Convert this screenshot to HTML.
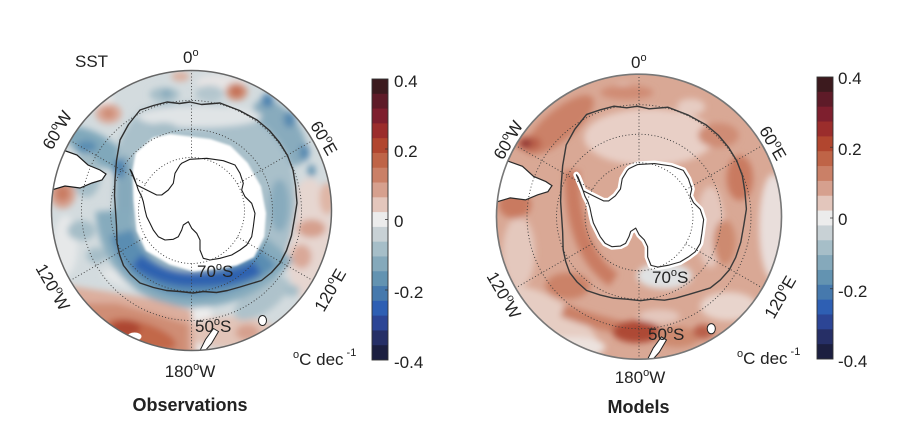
<!DOCTYPE html>
<html><head><meta charset="utf-8"><style>
html,body{margin:0;padding:0;background:#fff;}
svg{display:block;}
text{font-family:"Liberation Sans",Arial,sans-serif;fill:#222;}
</style></head><body>
<svg width="900" height="448" viewBox="0 0 900 448" xmlns="http://www.w3.org/2000/svg">
<defs>
<clipPath id="cl"><circle r="140"/></clipPath>
<filter id="bl" x="-30%" y="-30%" width="160%" height="160%"><feGaussianBlur stdDeviation="3.2"/></filter>
<filter id="bl2" x="-10%" y="-10%" width="120%" height="120%"><feGaussianBlur stdDeviation="1"/></filter>
<path id="ant" d="M-61.5,-41.2 L-59.8,-38.8 L-56.5,-30.5 L-53.2,-20.5 L-49.8,-13.8 L-48.2,-8.8 L-46.5,-0.5 L-44.8,6.2 L-41.5,12.8 L-38.2,19.5 L-33.2,26.2 L-26.5,29.5 L-18.2,28.8 L-13.2,26.2 L-9.8,19.5 L-8.2,14.5 L-3.2,11.2 L0.2,17.8 L5.2,22.8 L8.5,29.5 L8.5,39.5 L11.8,47.8 L18.5,49.5 L28.5,47.8 L40.2,44.5 L48.5,39.5 L55.2,34.5 L60.2,26.2 L61.8,16.2 L63.5,2.8 L60.2,-7.2 L53.5,-13.8 L50.2,-20.5 L51.8,-27.2 L48.5,-37.2 L43.5,-45.5 L31.8,-49.8 L15.2,-52.2 L-1.5,-51.2 L-9.8,-47.2 L-11.5,-45.5 L-16.5,-37.2 L-18.2,-27.2 L-23.2,-20.5 L-29.8,-15.5 L-34.8,-15.5 L-44.8,-20.5 L-54.8,-25.5 Z"/>
<path id="acc" d="M-1.5,-108.5 L10,-106 L28.5,-107.5 L48,-100 L65.5,-90.5 L78,-80 L88,-68 L96,-55 L101.5,-40.5 L104,-25 L105.5,-7.5 L103,8 L100,25 L95,40 L88.5,52.5 L80,62 L70,70 L60,73 L48.5,76.5 L36,80 L25,82 L12,81 L1.5,82.5 L-12,81 L-25,80 L-38,77 L-51.5,72.5 L-61,64 L-68,55 L-72,44 L-74.5,32.5 L-75,15 L-76,0 L-77,-15 L-76.5,-30.5 L-75,-50 L-71.5,-70.5 L-63,-86 L-51.5,-100.5 L-38,-105 L-24.5,-108.5 L-12,-107 Z"/>
<path id="sam" d="M-145,-64 L-128.5,-60.5 L-114.5,-55.5 L-103.5,-45.5 L-91.5,-40.5 L-85.5,-36.5 L-89.5,-30.5 L-99.5,-27.5 L-111.5,-22.5 L-126.5,-24.5 L-145,-19 Z"/>
<g id="grid" fill="none" stroke="#3a3a3a" stroke-width="0.9" stroke-dasharray="1 2.2">
<circle r="53"/><circle r="81"/><circle r="110"/>
<path d="M0,-53 L0,-140 M45.9,-26.5 L121.2,-70 M45.9,26.5 L121.2,70 M0,53 L0,140 M-45.9,26.5 L-121.2,70 M-45.9,-26.5 L-121.2,-70"/>
</g>
<g id="nz">
<path d="M8,141 L14,129 L22,118 L27,121 L20,133 L12,142 Z" fill="#fff" stroke="#222" stroke-width="1"/>
<ellipse cx="71" cy="110" rx="4" ry="5" fill="#fff" stroke="#222" stroke-width="1"/>
</g>
<g id="cbar">
<rect x="0" y="0" width="16" height="15.3" fill="#3c1a1e"/>
<rect x="0" y="14.79" width="16" height="15.3" fill="#5e1b28"/>
<rect x="0" y="29.58" width="16" height="15.3" fill="#7e1f2e"/>
<rect x="0" y="44.37" width="16" height="15.3" fill="#9b2d2c"/>
<rect x="0" y="59.16" width="16" height="15.3" fill="#b1462f"/>
<rect x="0" y="73.95" width="16" height="15.3" fill="#bf6447"/>
<rect x="0" y="88.74" width="16" height="15.3" fill="#ca8067"/>
<rect x="0" y="103.53" width="16" height="15.3" fill="#d6a08e"/>
<rect x="0" y="118.32" width="16" height="15.3" fill="#e3c6bc"/>
<rect x="0" y="133.11" width="16" height="15.3" fill="#ececec"/>
<rect x="0" y="147.89" width="16" height="15.3" fill="#c8d1d5"/>
<rect x="0" y="162.68" width="16" height="15.3" fill="#a6bec8"/>
<rect x="0" y="177.47" width="16" height="15.3" fill="#85a9bb"/>
<rect x="0" y="192.26" width="16" height="15.3" fill="#6393b1"/>
<rect x="0" y="207.05" width="16" height="15.3" fill="#4679ad"/>
<rect x="0" y="221.84" width="16" height="15.3" fill="#2e5fb3"/>
<rect x="0" y="236.63" width="16" height="15.3" fill="#2c4595"/>
<rect x="0" y="251.42" width="16" height="15.3" fill="#262f66"/>
<rect x="0" y="266.21" width="16" height="14.79" fill="#1c1f40"/>
<rect x="0" y="0" width="16" height="281" fill="none" stroke="#333" stroke-width="0.9"/>
<path d="M16,70 h-3 M16,140.5 h-3 M16,211 h-3" stroke="#333" stroke-width="0.8"/>
</g>
</defs>
<rect width="900" height="448" fill="#fff"/>

<!-- ================= LEFT MAP ================= -->
<g transform="translate(191.5,210.5)">
<g clip-path="url(#cl)">
<circle r="140" fill="#d3dbde"/>
<g filter="url(#bl)">
 <ellipse cx="-95" cy="-112" rx="16" ry="9" fill="#e9e9e9"/>
 <ellipse cx="-126" cy="35" rx="12" ry="30" fill="#e6e8e9"/>
 <ellipse cx="30" cy="-128" rx="25" ry="8" fill="#e6e4e4"/>
 <ellipse cx="118" cy="30" rx="24" ry="62" fill="#e6d6d0"/>
 <ellipse cx="10" cy="118" rx="12" ry="28" fill="#ececec"/>
 <ellipse cx="-60" cy="70" rx="30" ry="8" fill="#e4e7e8" transform="rotate(15 -60 70)"/>
 <ellipse cx="120" cy="18" rx="14" ry="9" fill="#d6a08e"/>
 <ellipse cx="110" cy="46" rx="10" ry="12" fill="#d9a898"/>
 <ellipse cx="136" cy="-12" rx="8" ry="16" fill="#dfb6a6"/>
 <ellipse cx="-129" cy="-17" rx="13" ry="15" fill="#d6a08e"/>
 <ellipse cx="-129" cy="-17" rx="7" ry="8" fill="#c97c62"/>
 <ellipse cx="-83" cy="-97" rx="13" ry="10" fill="#daa898"/>
 <ellipse cx="-83" cy="-97" rx="6" ry="5" fill="#cd8a72"/>
 <ellipse cx="45" cy="-119" rx="11" ry="9" fill="#d09078"/>
 <ellipse cx="45" cy="-119" rx="5" ry="5" fill="#c26a50"/>
 <ellipse cx="-11" cy="-134" rx="9" ry="5" fill="#dcb0a0"/>
 <ellipse cx="64" cy="-82" rx="18" ry="8" fill="#e0c2b6"/>
 <ellipse cx="40" cy="122" rx="45" ry="16" fill="#e2c4b8"/>
 <ellipse cx="56" cy="122" rx="12" ry="8" fill="#d6a08e"/>
 <ellipse cx="88" cy="-78" rx="20" ry="38" fill="#88abbd" transform="rotate(-35 88 -78)"/>
 <ellipse cx="76" cy="-110" rx="6" ry="7" fill="#4f84b0"/>
 <ellipse cx="98" cy="-91" rx="6" ry="8" fill="#5689b0"/>
 <ellipse cx="113" cy="-58" rx="5" ry="8" fill="#5689b0"/>
 <ellipse cx="120" cy="-40" rx="4" ry="6" fill="#6393b1"/>
 <ellipse cx="-27" cy="-116" rx="15" ry="7" fill="#a6bec8"/>
 <ellipse cx="-25" cy="-117" rx="5" ry="4" fill="#85a9bb"/>
 <ellipse cx="18" cy="-117" rx="14" ry="8" fill="#b4c6ce"/>
 <ellipse cx="-95" cy="-62" rx="36" ry="14" fill="#80a8bb" transform="rotate(30 -95 -62)"/>
 <ellipse cx="-105" cy="-64" rx="10" ry="6" fill="#5a8db2"/>
 <ellipse cx="-105" cy="-35" rx="14" ry="22" fill="#a6bec8"/>
 <ellipse cx="-110" cy="20" rx="14" ry="10" fill="#a6bec8"/>
 <ellipse cx="-95" cy="45" rx="10" ry="8" fill="#a6bec8"/>
 <ellipse cx="70" cy="88" rx="32" ry="14" fill="#aec2cb" transform="rotate(-35 70 88)"/>
 <ellipse cx="100" cy="80" rx="8" ry="6" fill="#a6bec8"/>
 <use href="#acc" fill="#a9c0ca"/>
 <ellipse cx="8" cy="-94" rx="62" ry="11" fill="#e0e4e6"/>
 <ellipse cx="-28" cy="-82" rx="14" ry="6" fill="#a6bec8"/>
 <ellipse cx="88" cy="-5" rx="10" ry="26" fill="#88abbd"/>
 <ellipse cx="-67" cy="-10" rx="10" ry="46" fill="#85a9bb"/>
 <ellipse cx="-72" cy="-42" rx="6" ry="10" fill="#4f84b0"/>
 <path d="M-78,0 C-75,50 -40,78 0,79 C40,79 68,62 88,38" stroke="#86abbd" stroke-width="36" fill="none"/>
 <path d="M-70,22 C-60,58 -30,74 0,74 C35,73 60,62 76,46" stroke="#5a8db2" stroke-width="24" fill="none"/>
 <path d="M-55,50 C-38,64 -15,70 5,69 C30,69 50,66 66,57" stroke="#2f62b0" stroke-width="14" fill="none"/>
 <path d="M-150,70 L-142,72 L-92,80 L-42,88 L0,100 L6,150 L-150,150Z" fill="#dcae9d"/>
 <path d="M-150,94 L-120,93 L-75,93 L-35,104 L-3,114 L-3,150 L-150,150Z" fill="#cf8d74"/>
 <ellipse cx="-50" cy="124" rx="36" ry="12" fill="#c2674a" transform="rotate(18 -50 124)"/>
 <ellipse cx="-66" cy="118" rx="15" ry="8" fill="#ad4630"/>
</g>
<ellipse cx="-57" cy="126" rx="7" ry="4" fill="#fff"/>
<path d="M-55,-57 L-38,-72 L-21.5,-75.5 L18.5,-70.5 L38.5,-63.8 L55.2,-47.2 L68.5,-23.8 L73.5,2.8 L71.8,26 L61.8,46 L45,54 L28.5,57 L1.8,60 L-21.5,53 L-44.8,39.5 L-54,20 L-57,-10 L-58,-40 Z" fill="#fff" stroke="#fff" stroke-width="2" stroke-linejoin="round" filter="url(#bl2)"/>
<use href="#ant" fill="none" stroke="#1c1c1c" stroke-width="1.1" stroke-linejoin="round"/>
<use href="#acc" fill="none" stroke="#2e2e2e" stroke-width="1.4" stroke-linejoin="round"/>
<use href="#sam" fill="#fff" stroke="#1c1c1c" stroke-width="1.2"/>
<use href="#nz"/>
<use href="#grid"/>
</g>
<circle r="140" fill="none" stroke="#666" stroke-width="1.5"/>
</g>

<!-- ================= RIGHT MAP ================= -->
<g transform="translate(639,216.7) scale(1.018)">
<g clip-path="url(#cl)">
<circle r="140" fill="#d9a895"/>
<g filter="url(#bl)">
 <ellipse cx="10" cy="-78" rx="64" ry="28" fill="#e8cfc6"/>
 <ellipse cx="70" cy="10" rx="14" ry="40" fill="#e4c7bd"/>
 <ellipse cx="-85" cy="105" rx="55" ry="22" fill="#e6cdc3" transform="rotate(35 -85 105)"/>
 <ellipse cx="-65" cy="128" rx="32" ry="10" fill="#ece2de"/>
 <ellipse cx="-118" cy="35" rx="16" ry="35" fill="#e4c8bd"/>
 <ellipse cx="132" cy="10" rx="14" ry="52" fill="#e9dedb"/>
 <ellipse cx="25" cy="58" rx="27" ry="13" fill="#e0e2e3"/>
 <ellipse cx="88" cy="88" rx="28" ry="14" fill="#e8d4cc"/>
 <ellipse cx="51" cy="-108" rx="14" ry="8" fill="#e6ccc2"/>
 <ellipse cx="20" cy="98" rx="20" ry="7" fill="#e4c7bd"/>
 <ellipse cx="-15" cy="-125" rx="10" ry="6" fill="#e6ccc2"/>
 <ellipse cx="-78" cy="-90" rx="42" ry="15" fill="#cb8167" transform="rotate(-40 -78 -90)"/>
 <ellipse cx="-108" cy="-72" rx="12" ry="7" fill="#b95f48"/>
 <ellipse cx="-111" cy="-72" rx="5" ry="3" fill="#7e1f2e"/>
 <ellipse cx="-12" cy="-122" rx="26" ry="7" fill="#d08c75"/>
 <ellipse cx="-122" cy="-12" rx="16" ry="14" fill="#c97a60"/>
 <path d="M-66,-45 C-66,10 -50,45 -25,62" stroke="#c97c62" stroke-width="15" fill="none"/>
 <ellipse cx="-70" cy="68" rx="22" ry="13" fill="#cb8268"/>
 <path d="M-75,92 Q-40,105 -5,112" stroke="#ca8066" stroke-width="13" fill="none"/>
 <ellipse cx="-2" cy="113" rx="24" ry="11" fill="#ae4a34"/>
 <ellipse cx="38" cy="118" rx="22" ry="10" fill="#cd8a70"/>
 <ellipse cx="63" cy="113" rx="10" ry="7" fill="#b95f48"/>
 <ellipse cx="99" cy="-38" rx="13" ry="22" fill="#c97a60"/>
 <ellipse cx="84" cy="25" rx="11" ry="22" fill="#cd8a70"/>
 <ellipse cx="78" cy="-80" rx="20" ry="12" fill="#cf8c74"/>
</g>
<use href="#ant" fill="#fff" stroke="#fff" stroke-width="6" stroke-linejoin="round"/>
<use href="#ant" fill="none" stroke="#2a2a2a" stroke-width="1.1" stroke-linejoin="round"/>
<use href="#acc" fill="none" stroke="#3a3a3a" stroke-width="1.4" stroke-linejoin="round"/>
<use href="#sam" fill="#fff" stroke="#2a2a2a" stroke-width="1.2" transform="translate(0,6)"/>
<use href="#nz"/>
<use href="#grid"/>
</g>
<circle r="140" fill="none" stroke="#777" stroke-width="1.6"/>
</g>

<!-- ================= COLORBARS ================= -->
<use href="#cbar" transform="translate(372,79)"/>
<use href="#cbar" transform="translate(817,77) scale(1,1.0036)"/>

<g font-size="17">
<text x="394" y="87">0.4</text>
<text x="394" y="157">0.2</text>
<text x="394" y="227">0</text>
<text x="394" y="298">-0.2</text>
<text x="394" y="368">-0.4</text>

<text x="838" y="84">0.4</text>
<text x="838" y="155">0.2</text>
<text x="838" y="225">0</text>
<text x="838" y="297">-0.2</text>
<text x="838" y="367">-0.4</text>
</g>

<!-- ================= LEFT LABELS ================= -->
<g font-size="17">
<text x="75" y="67">SST</text>
<text x="183" y="63">0<tspan dy="-7" font-size="11">o</tspan></text>
<text transform="translate(57,130) rotate(-60)" y="6" text-anchor="middle">60<tspan dy="-7" font-size="11">o</tspan><tspan dy="7">W</tspan></text>
<text transform="translate(324,138) rotate(60)" y="6" text-anchor="middle">60<tspan dy="-7" font-size="11">o</tspan><tspan dy="7">E</tspan></text>
<text transform="translate(330,290) rotate(-60)" y="6" text-anchor="middle">120<tspan dy="-7" font-size="11">o</tspan><tspan dy="7">E</tspan></text>
<text transform="translate(53,287) rotate(60)" y="6" text-anchor="middle">120<tspan dy="-7" font-size="11">o</tspan><tspan dy="7">W</tspan></text>
<text x="190" y="377" text-anchor="middle">180<tspan dy="-7" font-size="11">o</tspan><tspan dy="7">W</tspan></text>
<text x="197" y="277">70<tspan dy="-7" font-size="11">o</tspan><tspan dy="7">S</tspan></text>
<text x="195" y="332">50<tspan dy="-7" font-size="11">o</tspan><tspan dy="7">S</tspan></text>
<text x="293" y="365"><tspan dy="-7" font-size="11">o</tspan><tspan dy="7">C dec</tspan><tspan dx="3" dy="-9" font-size="11">-1</tspan></text>
</g>
<text x="190" y="411" font-size="18" font-weight="bold" text-anchor="middle" fill="#111">Observations</text>

<!-- ================= RIGHT LABELS ================= -->
<g font-size="17">
<text x="631" y="68">0<tspan dy="-7" font-size="11">o</tspan></text>
<text transform="translate(508,140) rotate(-60)" y="6" text-anchor="middle">60<tspan dy="-7" font-size="11">o</tspan><tspan dy="7">W</tspan></text>
<text transform="translate(773,143) rotate(60)" y="6" text-anchor="middle">60<tspan dy="-7" font-size="11">o</tspan><tspan dy="7">E</tspan></text>
<text transform="translate(780,297) rotate(-60)" y="6" text-anchor="middle">120<tspan dy="-7" font-size="11">o</tspan><tspan dy="7">E</tspan></text>
<text transform="translate(504,295) rotate(60)" y="6" text-anchor="middle">120<tspan dy="-7" font-size="11">o</tspan><tspan dy="7">W</tspan></text>
<text x="640" y="383" text-anchor="middle">180<tspan dy="-7" font-size="11">o</tspan><tspan dy="7">W</tspan></text>
<text x="652" y="283">70<tspan dy="-7" font-size="11">o</tspan><tspan dy="7">S</tspan></text>
<text x="648" y="340">50<tspan dy="-7" font-size="11">o</tspan><tspan dy="7">S</tspan></text>
<text x="737" y="364"><tspan dy="-7" font-size="11">o</tspan><tspan dy="7">C dec</tspan><tspan dx="3" dy="-9" font-size="11">-1</tspan></text>
</g>
<text x="638.5" y="413" font-size="18" font-weight="bold" text-anchor="middle" fill="#111">Models</text>
</svg>
</body></html>
